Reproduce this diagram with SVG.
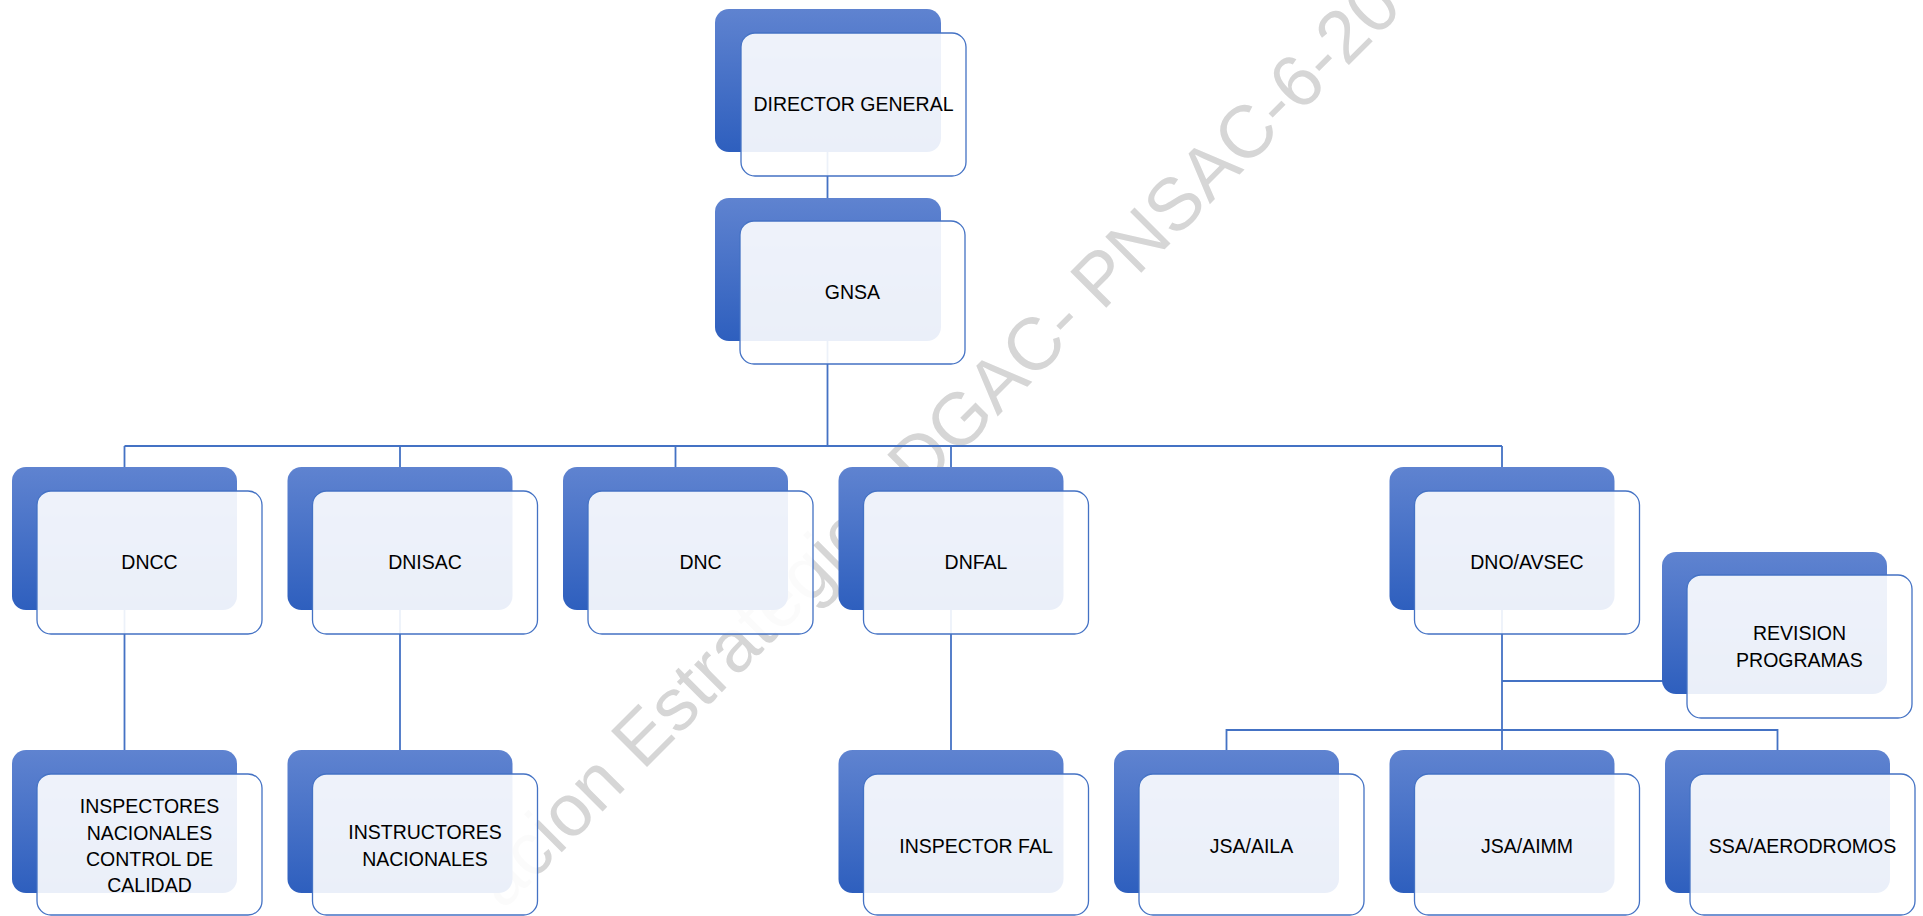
<svg xmlns="http://www.w3.org/2000/svg" width="1923" height="916" viewBox="0 0 1923 916">
  <style>
    .back { fill: url(#backGrad); }
    .front { fill: #ffffff; fill-opacity: 0.9; stroke: #4472c4; stroke-width: 1.3; }
    .label { font-family: "Liberation Sans", Arial, sans-serif; font-size: 19.5px; fill: #000000; text-anchor: middle; }
    .link { fill: none; stroke: #4472c4; stroke-width: 1.8; }
    .wm { font-family: "Liberation Sans", Arial, sans-serif; font-size: 74px; fill: #d6d6d6; }
  </style>
  <defs>
    <linearGradient id="backGrad" x1="0" y1="0" x2="0" y2="1">
      <stop offset="0" stop-color="#5f83d0"/>
      <stop offset="1" stop-color="#2e5fbe"/>
    </linearGradient>
  </defs>

  <rect x="0" y="0" width="1923" height="916" fill="#ffffff"/>

  <!-- watermark -->
  <text class="wm" x="503" y="911" transform="rotate(-45 503 911)">acion Estrategica DGAC- PNSAC-6-20</text>

  <!-- connectors -->
  <g id="connectors">
    <path class="link" d="M827.5 152 V198"/>
    <path class="link" d="M827.5 341 V446"/>
    <path class="link" d="M124.5 446 H1502"/>
    <path class="link" d="M124.5 446 V467 M400 446 V467 M675.5 446 V467 M951 446 V467 M1502 446 V467"/>
    <path class="link" d="M124.5 610 V750"/>
    <path class="link" d="M400 610 V750"/>
    <path class="link" d="M951 610 V750"/>
    <path class="link" d="M1502 610 V750"/>
    <path class="link" d="M1502 681 H1674"/>
    <path class="link" d="M1226.5 750 V730 H1777.5 V750"/>
  </g>

  <!-- nodes: back tile, front card, label -->
  <g id="director-general">
    <rect class="back" x="715" y="9" width="226" height="143" rx="14"/>
    <rect class="front" x="741" y="33" width="225" height="143" rx="14"/>
    <text class="label" x="853.5" y="111">DIRECTOR GENERAL</text>
  </g>

  <g id="gnsa">
    <rect class="back" x="715" y="198" width="226" height="143" rx="14"/>
    <rect class="front" x="740" y="221" width="225" height="143" rx="14"/>
    <text class="label" x="852.5" y="299">GNSA</text>
  </g>

  <g id="dncc">
    <rect class="back" x="12" y="467" width="225" height="143" rx="14"/>
    <rect class="front" x="37" y="491" width="225" height="143" rx="14"/>
    <text class="label" x="149.5" y="569">DNCC</text>
  </g>

  <g id="dnisac">
    <rect class="back" x="287.5" y="467" width="225" height="143" rx="14"/>
    <rect class="front" x="312.5" y="491" width="225" height="143" rx="14"/>
    <text class="label" x="425" y="569">DNISAC</text>
  </g>

  <g id="dnc">
    <rect class="back" x="563" y="467" width="225" height="143" rx="14"/>
    <rect class="front" x="588" y="491" width="225" height="143" rx="14"/>
    <text class="label" x="700.5" y="569">DNC</text>
  </g>

  <g id="dnfal">
    <rect class="back" x="838.5" y="467" width="225" height="143" rx="14"/>
    <rect class="front" x="863.5" y="491" width="225" height="143" rx="14"/>
    <text class="label" x="976" y="569">DNFAL</text>
  </g>

  <g id="dno-avsec">
    <rect class="back" x="1389.5" y="467" width="225" height="143" rx="14"/>
    <rect class="front" x="1414.5" y="491" width="225" height="143" rx="14"/>
    <text class="label" x="1527" y="569">DNO/AVSEC</text>
  </g>

  <g id="revision-programas">
    <rect class="back" x="1662" y="552" width="225" height="142" rx="14"/>
    <rect class="front" x="1687" y="575" width="225" height="143" rx="14"/>
    <text class="label" x="1799.5" y="640">REVISION</text>
    <text class="label" x="1799.5" y="667">PROGRAMAS</text>
  </g>

  <g id="inspectores-nacionales">
    <rect class="back" x="12" y="750" width="225" height="143" rx="14"/>
    <rect class="front" x="37" y="774" width="225" height="141" rx="14"/>
    <text class="label" x="149.5" y="813">INSPECTORES</text>
    <text class="label" x="149.5" y="840">NACIONALES</text>
    <text class="label" x="149.5" y="866">CONTROL DE</text>
    <text class="label" x="149.5" y="892">CALIDAD</text>
  </g>

  <g id="instructores-nacionales">
    <rect class="back" x="287.5" y="750" width="225" height="143" rx="14"/>
    <rect class="front" x="312.5" y="774" width="225" height="141" rx="14"/>
    <text class="label" x="425" y="839">INSTRUCTORES</text>
    <text class="label" x="425" y="866">NACIONALES</text>
  </g>

  <g id="inspector-fal">
    <rect class="back" x="838.5" y="750" width="225" height="143" rx="14"/>
    <rect class="front" x="863.5" y="774" width="225" height="141" rx="14"/>
    <text class="label" x="976" y="853">INSPECTOR FAL</text>
  </g>

  <g id="jsa-aila">
    <rect class="back" x="1114" y="750" width="225" height="143" rx="14"/>
    <rect class="front" x="1139" y="774" width="225" height="141" rx="14"/>
    <text class="label" x="1251.5" y="853">JSA/AILA</text>
  </g>

  <g id="jsa-aimm">
    <rect class="back" x="1389.5" y="750" width="225" height="143" rx="14"/>
    <rect class="front" x="1414.5" y="774" width="225" height="141" rx="14"/>
    <text class="label" x="1527" y="853">JSA/AIMM</text>
  </g>

  <g id="ssa-aerodromos">
    <rect class="back" x="1665" y="750" width="225" height="143" rx="14"/>
    <rect class="front" x="1690" y="774" width="225" height="141" rx="14"/>
    <text class="label" x="1802.5" y="853">SSA/AERODROMOS</text>
  </g>
</svg>
